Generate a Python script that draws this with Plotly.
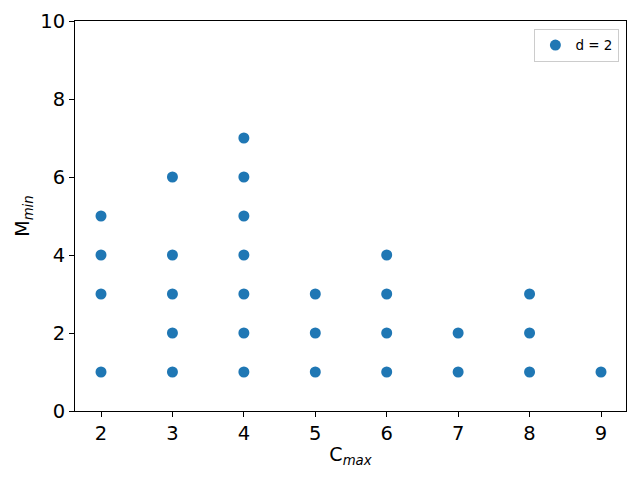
import plotly.graph_objects as go

c_max = [2, 2, 2, 2,
         3, 3, 3, 3, 3,
         4, 4, 4, 4, 4, 4, 4,
         5, 5, 5,
         6, 6, 6, 6,
         7, 7,
         8, 8, 8,
         9]
m_min = [1, 3, 4, 5,
         1, 2, 3, 4, 6,
         1, 2, 3, 4, 5, 6, 7,
         1, 2, 3,
         1, 2, 3, 4,
         1, 2,
         1, 2, 3,
         1]

fig = go.Figure()
fig.add_trace(go.Scatter(
    x=c_max, y=m_min, mode="markers", name="d = 2",
    marker=dict(color="#1f77b4", size=11, line=dict(width=0)),
))

axis_common = dict(
    showgrid=False, zeroline=False, showline=True, linecolor="black", linewidth=1,
    mirror=True, ticks="outside", ticklen=5, tickcolor="black",
    tickfont=dict(size=19.5, color="black"), automargin=False,
)
fig.update_xaxes(range=[1.636, 9.35], tickvals=[2, 3, 4, 5, 6, 7, 8, 9],
                 title=dict(text="C<sub><i>max</i></sub>", font=dict(size=19, color="black"), standoff=3),
                 **axis_common)
fig.update_yaxes(range=[0, 10], tickvals=[0, 2, 4, 6, 8, 10],
                 title=dict(text="M<sub><i>min</i></sub>", font=dict(size=19, color="black"), standoff=5),
                 **axis_common)

fig.update_layout(
    width=640, height=480,
    margin=dict(l=75, r=14, t=21, b=69),
    plot_bgcolor="white", paper_bgcolor="white",
    font=dict(family="DejaVu Sans", color="black"),
    showlegend=True,
    legend=dict(x=0.988, y=0.98, xanchor="right", yanchor="top",
                bordercolor="#cccccc", borderwidth=1, bgcolor="white",
                font=dict(size=13.5)),
)

fig.write_html("out.html", config={"displayModeBar": False},
               post_script="document.body.style.margin='0';")
